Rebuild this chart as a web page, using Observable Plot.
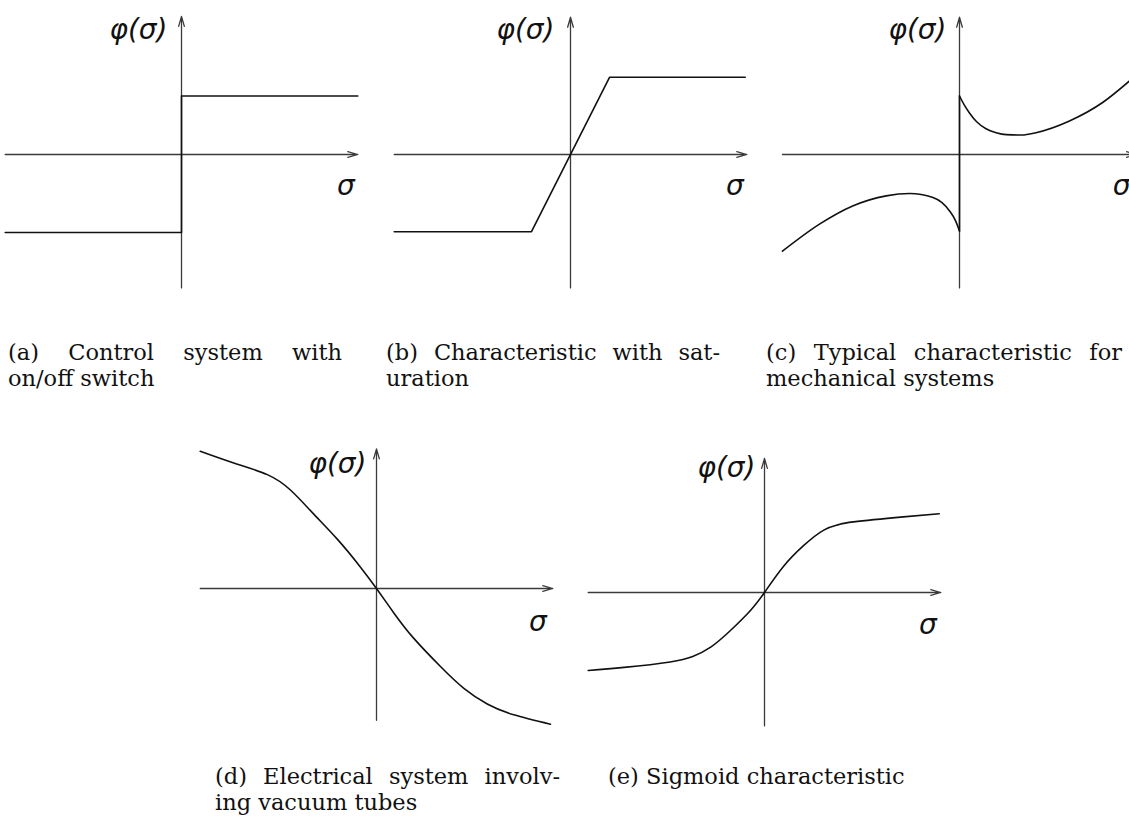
<!DOCTYPE html>
<html>
<head>
<meta charset="utf-8">
<script src="https://cdn.jsdelivr.net/npm/d3@7"></script>
<script src="https://cdn.jsdelivr.net/npm/@observablehq/plot@0.6"></script>
<style>
  html, body { margin: 0; padding: 0; background: #fff; }
  #page { position: relative; width: 1129px; height: 832px; overflow: hidden; background: #fff; }
  .panel { position: absolute; }
  .panel svg { display: block; background: transparent; }
  .cap { position: absolute; font-family: "DejaVu Serif", serif; font-size: 22.5px; line-height: 26px; color: #111; }
  .cap .full { text-align: justify; text-align-last: justify; }
  .cap .line { white-space: nowrap; }
</style>
</head>
<body>
<div id="page"></div>
<script>
// Axis labels
const sigmaLabel = "σ";
const phiLabel = "φ(σ)";

// (a) on/off switch: a step at σ = 0
const switchSigma = [-2.26, 0, 0, 2.26];
const switchPhi   = [-1.0, -1.0, 0.75, 0.75];

// (b) linear with saturation
const satSigma = [-2.26, -0.5, 0.5, 2.24];
const satPhi   = [-0.99, -0.99, 0.99, 0.99];

// (c) mechanical characteristic: two branches joined by a jump at σ = 0
const mechLeftSigma  = [-2.27, -1.79, -1.37, -0.94, -0.64, -0.34, -0.13, -0.05, 0];
const mechLeftPhi    = [-1.24, -0.89, -0.66, -0.53, -0.50, -0.55, -0.72, -0.85, -0.98];
const mechJumpSigma  = [0, 0];
const mechJumpPhi    = [-0.98, 0.75];
const mechRightSigma = [0, 0.07, 0.13, 0.22, 0.34, 0.47, 0.60, 0.80, 0.98, 1.41, 1.84, 2.20];
const mechRightPhi   = [0.75, 0.62, 0.53, 0.42, 0.33, 0.28, 0.255, 0.25, 0.28, 0.43, 0.67, 0.96];

// (d) vacuum tube characteristic (decreasing)
const tubeSigma = [-2.26, -1.83, -1.40, -1.10, -0.81, -0.50, -0.21, 0,
                   0.22, 0.47, 0.82, 1.12, 1.42, 1.76, 2.23];
const tubePhi   = [1.76, 1.61, 1.46, 1.26, 0.96, 0.63, 0.28, 0,
                   -0.31, -0.63, -1.00, -1.28, -1.48, -1.62, -1.74];

// (e) sigmoid
const sigSigma = [-2.26, -1.80, -1.21, -0.92, -0.69, -0.44, -0.18, 0,
                  0.24, 0.50, 0.76, 0.95, 1.14, 1.78, 2.24];
const sigPhi   = [-1.00, -0.96, -0.89, -0.82, -0.70, -0.49, -0.23, 0,
                  0.33, 0.60, 0.80, 0.87, 0.905, 0.97, 1.01];

// Captions, one entry per printed line
const capA = ["(a) Control system with", "on/off switch"];
const capB = ["(b) Characteristic with sat-", "uration"];
const capC = ["(c) Typical characteristic for", "mechanical systems"];
const capD = ["(d) Electrical system involv-", "ing vacuum tubes"];
const capE = ["(e) Sigmoid characteristic"];

function rows(sigma, phi, part) {
  return sigma.map((s, i) => ({sigma: s, phi: phi[i], part}));
}

const UNIT = 78; // pixels per unit on both axes
const AXIS_COLOR = "#3a3a3a";
const CURVE_COLOR = "#111";
const MATH_FONT = "DejaVu Sans, sans-serif";

const panels = [
  {left: 0,   top: 0,   width: 376, height: 300, ox: 181, oy: 154,
   sigmaExt: [-2.26, 2.26], phiExt: [-1.71, 1.77], phiOff: [-14, 14], sigmaOff: [-12, 32],
   curves: [{data: rows(switchSigma, switchPhi, "a"), curve: "linear"}]},
  {left: 376, top: 0,   width: 376, height: 300, ox: 570, oy: 154,
   sigmaExt: [-2.26, 2.26], phiExt: [-1.71, 1.76], phiOff: [-16, 13], sigmaOff: [-12, 32],
   curves: [{data: rows(satSigma, satPhi, "b"), curve: "linear"}]},
  {left: 752, top: 0,   width: 377, height: 300, ox: 959, oy: 154,
   sigmaExt: [-2.27, 2.27], phiExt: [-1.71, 1.76], phiOff: [-13, 13], sigmaOff: [-15, 32],
   curves: [
     {data: [...rows(mechLeftSigma, mechLeftPhi, "left"),
             ...rows(mechRightSigma, mechRightPhi, "right")], curve: "monotone-x"},
     {data: rows(mechJumpSigma, mechJumpPhi, "jump"), curve: "linear"}
   ]},
  {left: 180, top: 420, width: 390, height: 320, ox: 376, oy: 588,
   sigmaExt: [-2.26, 2.26], phiExt: [-1.69, 1.79], phiOff: [-10, 15], sigmaOff: [-15, 34],
   curves: [{data: rows(tubeSigma, tubePhi, "d"), curve: "natural"}]},
  {left: 570, top: 420, width: 390, height: 320, ox: 764, oy: 592,
   sigmaExt: [-2.26, 2.26], phiExt: [-1.71, 1.72], phiOff: [-9, 10], sigmaOff: [-13, 33],
   curves: [{data: rows(sigSigma, sigPhi, "e"), curve: "natural"}]}
];

const captions = [
  {lines: capA, left: 8,   top: 339, width: 334},
  {lines: capB, left: 386, top: 339, width: 334},
  {lines: capC, left: 766, top: 339, width: 356},
  {lines: capD, left: 215, top: 763, width: 345},
  {lines: capE, left: 608, top: 763, width: null}
];

const page = document.getElementById("page");

for (const p of panels) {
  const xDomain = [(p.left - p.ox) / UNIT, (p.left + p.width - p.ox) / UNIT];
  const yDomain = [(p.oy - p.top - p.height) / UNIT, (p.oy - p.top) / UNIT];
  const [s0, s1] = p.sigmaExt;
  const [f0, f1] = p.phiExt;
  const arrowOpts = {
    x1: "x1", y1: "y1", x2: "x2", y2: "y2",
    stroke: AXIS_COLOR, strokeWidth: 1.3, headLength: 12, headAngle: 32
  };
  const mathText = {
    x: "x", y: "y", fontSize: 28, fontStyle: "italic", fontFamily: MATH_FONT, fill: "#111"
  };
  const chart = Plot.plot({
    width: p.width,
    height: p.height,
    margin: 0,
    x: {domain: xDomain, range: [0, p.width], axis: null},
    y: {domain: yDomain, range: [p.height, 0], axis: null},
    marks: [
      Plot.arrow([{x1: s0, y1: 0, x2: s1, y2: 0}], arrowOpts),
      Plot.arrow([{x1: 0, y1: f0, x2: 0, y2: f1}], arrowOpts),
      ...p.curves.map(c => Plot.line(c.data, {
        x: "sigma", y: "phi", z: "part", curve: c.curve,
        stroke: CURVE_COLOR, strokeWidth: 1.6
      })),
      Plot.text([{x: 0, y: f1}], {...mathText, text: () => phiLabel,
                 textAnchor: "end", dx: p.phiOff[0], dy: p.phiOff[1]}),
      Plot.text([{x: s1, y: 0}], {...mathText, text: () => sigmaLabel,
                 textAnchor: "middle", dx: p.sigmaOff[0], dy: p.sigmaOff[1]})
    ]
  });
  const holder = document.createElement("div");
  holder.className = "panel";
  holder.style.left = p.left + "px";
  holder.style.top = p.top + "px";
  holder.style.width = p.width + "px";
  holder.style.height = p.height + "px";
  holder.appendChild(chart);
  page.appendChild(holder);
}

for (const c of captions) {
  const box = document.createElement("div");
  box.className = "cap";
  box.style.left = c.left + "px";
  box.style.top = c.top + "px";
  if (c.width) box.style.width = c.width + "px";
  c.lines.forEach((txt, i) => {
    const line = document.createElement("div");
    line.className = (i < c.lines.length - 1) ? "full" : "line";
    line.textContent = txt;
    box.appendChild(line);
  });
  page.appendChild(box);
}
</script>
</body>
</html>
